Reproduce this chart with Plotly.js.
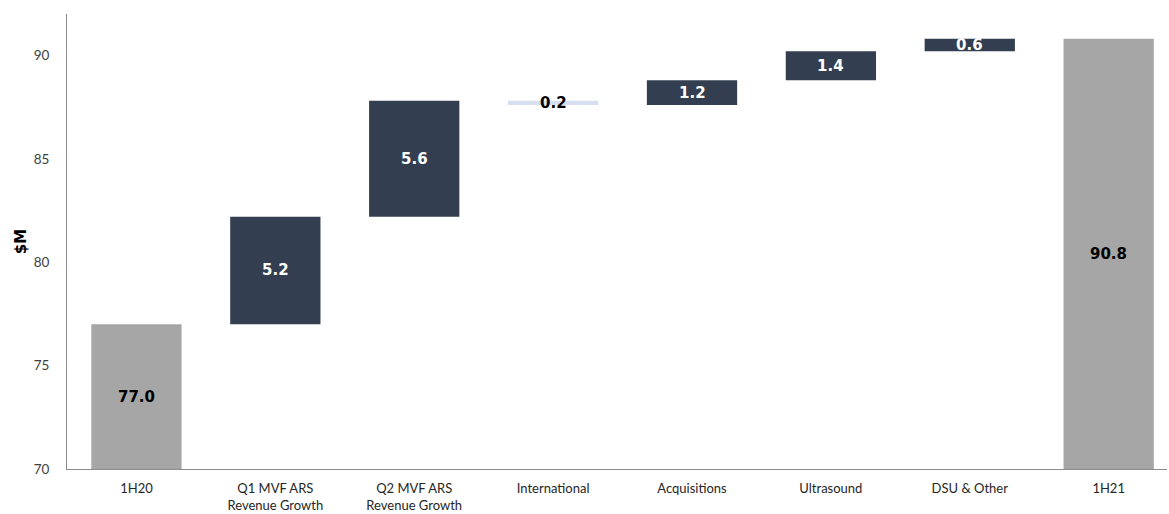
<!DOCTYPE html>
<html>
<head>
<meta charset="utf-8">
<script src="https://cdn.plot.ly/plotly-3.0.1.min.js"></script>
<style>html,body{margin:0;padding:0;background:#fff;}#chart{width:1169px;height:514px;}</style>
</head>
<body>
<div id="chart"></div>
<script>
// Data
const categories = ["1H20", "Q1 MVF ARS<br>Revenue Growth", "Q2 MVF ARS<br>Revenue Growth", "International", "Acquisitions", "Ultrasound", "DSU & Other", "1H21"];
const values = [77.0, 5.2, 5.6, -0.2, 1.2, 1.4, 0.6, 90.8];
const measures = ["total", "relative", "relative", "relative", "relative", "relative", "relative", "total"];
const labels = ["77.0", "5.2", "5.6", "0.2", "1.2", "1.4", "0.6", "90.8"];

// Styles
const colorTotal = "#a6a6a6", colorUp = "#333f50", colorDown = "#d6dff0";

// Build bases from running totals
let running = 0;
const bases = [], heights = [], colors = [], textColors = [];
values.forEach((v, i) => {
  if (measures[i] === "total") {
    bases.push(0); heights.push(v); running = v;
    colors.push(colorTotal); textColors.push("#000000");
  } else {
    const start = running, end = running + v;
    bases.push(Math.min(start, end)); heights.push(Math.abs(v)); running = end;
    colors.push(v >= 0 ? colorUp : colorDown); textColors.push(v >= 0 ? "#ffffff" : "#000000");
  }
});

const trace = {
  type: "bar",
  x: categories,
  y: heights,
  base: bases,
  marker: {color: colors, line: {width: 0}},
  width: 0.65,
  hoverinfo: "skip"
};

const annotations = categories.map((c, i) => {
  let yc;
  if (measures[i] === "total") {
    yc = 70 + (heights[i] - 70) / 2;
  } else {
    yc = bases[i] + heights[i] / 2;
  }
  return {
    x: c, y: yc, xref: "x", yref: "y", text: "<b>" + labels[i] + "</b>",
    showarrow: false, font: {family: "DejaVu Sans", size: 15, color: textColors[i]}
  };
});

const layout = {
  width: 1169, height: 514,
  margin: {l: 67, r: 2, t: 14, b: 45},
  paper_bgcolor: "#ffffff", plot_bgcolor: "#ffffff",
  showlegend: false,
  bargap: 0.35,
  font: {family: "Lato, 'Open Sans', sans-serif", size: 13, color: "#404040"},
  xaxis: {
    type: "category",
    range: [-0.5, 7.42],
    showline: true, linecolor: "#8c8c8c", linewidth: 1,
    showgrid: false, zeroline: false, ticks: "",
    ticklabelstandoff: 7,
    tickfont: {family: "Lato, 'Open Sans', sans-serif", size: 13, color: "#262626"},
    fixedrange: true
  },
  yaxis: {
    range: [70, 92],
    tickvals: [70, 75, 80, 85, 90],
    showline: true, linecolor: "#8c8c8c", linewidth: 1,
    showgrid: false, zeroline: false, ticks: "",
    ticklabelstandoff: 14,
    tickfont: {family: "Lato, 'Open Sans', sans-serif", size: 13.5, color: "#404040"},
    title: {text: "<b>$M</b>", font: {family: "DejaVu Sans", size: 15, color: "#000000"}, standoff: 3},
    fixedrange: true
  },
  annotations: annotations
};

Plotly.newPlot("chart", [trace], layout, {displayModeBar: false, staticPlot: true});
</script>
</body>
</html>
